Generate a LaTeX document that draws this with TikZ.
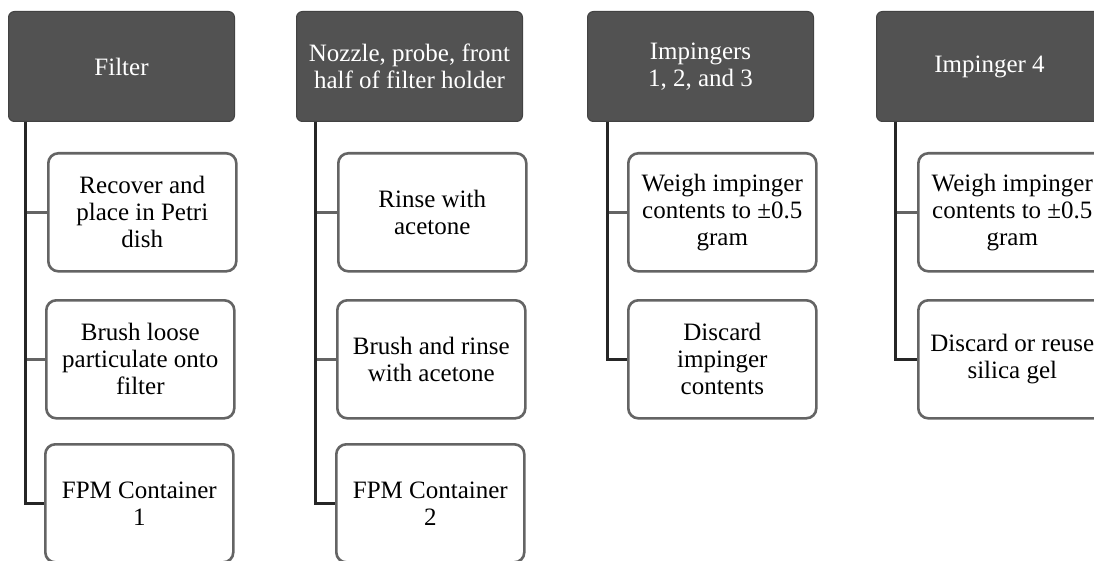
\documentclass[tikz,border=0pt]{standalone}
\usepackage{fontspec}
\setmainfont{Liberation Serif}
\begin{document}
\begin{tikzpicture}[x=1pt,y=-1pt,
  head/.style={rectangle,rounded corners=6pt,fill=hdr,draw=hdr!80!black,line width=1pt,
    minimum width=226pt,minimum height=110pt,text=white,align=center,
    font=\fontsize{25}{27}\selectfont,anchor=north west,inner sep=0pt},
  child/.style={rectangle,rounded corners=10pt,fill=white,draw=bdr,line width=2.6pt,
    minimum width=188pt,minimum height=118pt,align=center,
    font=\fontsize{25}{27}\selectfont,anchor=north west,inner sep=0pt},
  trunk/.style={draw=black!85,line width=3pt},
  branch/.style={draw=bdr,line width=3pt}]
\definecolor{hdr}{RGB}{82,82,82}
\definecolor{bdr}{RGB}{100,100,100}
\useasboundingbox (0,0) rectangle (1094,561);
\clip (0,0) rectangle (1094,561);
% column 1
\node[head] (h1) at (8,11) {Filter};
\node[child] (c11) at (47,152) {Recover and\\place in Petri\\dish};
\node[child] (c12) at (45,299) {Brush loose\\particulate onto\\filter};
\node[child] (c13) at (44,443) {FPM Container\\1};
% column 2
\node[head] (h2) at (296,11) {Nozzle, probe, front\\half of filter holder};
\node[child] (c21) at (337,152) {Rinse with\\acetone};
\node[child] (c22) at (336,299) {Brush and rinse\\with acetone};
\node[child] (c23) at (335,443) {FPM Container\\2};
% column 3
\node[head] (h3) at (587,11) {Impingers\\1, 2, and 3};
\node[child] (c31) at (627,152) {Weigh impinger\\contents to ±0.5\\gram};
\node[child] (c32) at (627,299) {Discard\\impinger\\contents};
% column 4
\node[head] (h4) at (876,11) {Impinger 4};
\node[child] (c41) at (917,152) {Weigh impinger\\contents to ±0.5\\gram};
\node[child] (c42) at (917,299) {Discard or reuse\\silica gel};
% connectors
\coordinate (t1) at ([xshift=17pt]h1.south west);
\coordinate (t2) at ([xshift=19pt]h2.south west);
\coordinate (t3) at ([xshift=20pt]h3.south west);
\coordinate (t4) at ([xshift=19pt]h4.south west);
\draw[branch] (t1 |- c11.west) -- (c11.west);
\draw[branch] (t1 |- c12.west) -- (c12.west);
\draw[branch] (t2 |- c21.west) -- (c21.west);
\draw[branch] (t2 |- c22.west) -- (c22.west);
\draw[branch] (t3 |- c31.west) -- (c31.west);
\draw[branch] (t4 |- c41.west) -- (c41.west);
\draw[trunk] (t1) |- (c13.west);
\draw[trunk] (t2) |- (c23.west);
\draw[trunk] (t3) |- (c32.west);
\draw[trunk] (t4) |- (c42.west);
\end{tikzpicture}
\end{document}
